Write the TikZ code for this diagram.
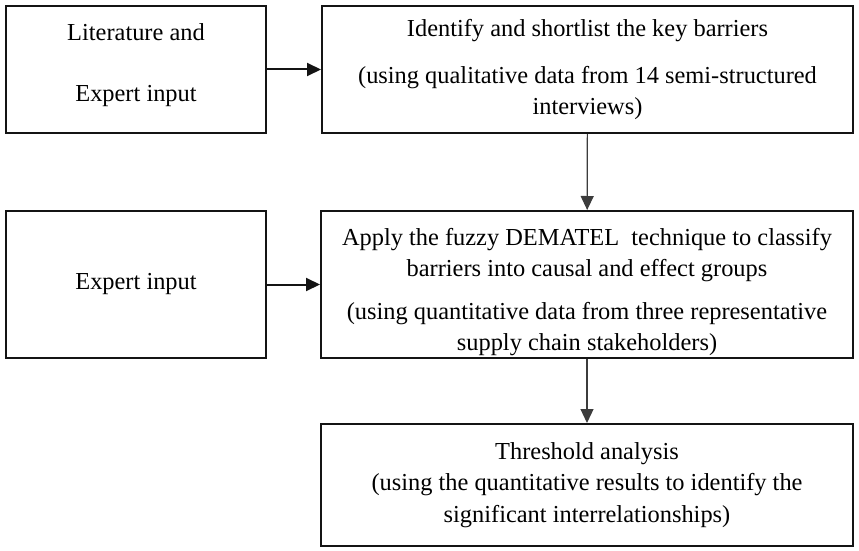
\documentclass[tikz,border=0pt]{standalone}
\usepackage{fontspec}
\setmainfont{Liberation Serif}
\usetikzlibrary{positioning, arrows.meta}
\definecolor{boxcol}{RGB}{20,20,20}
\definecolor{flowcol}{RGB}{60,60,60}

\begin{document}
\begin{tikzpicture}[
			x=1pt,
			y=-1pt,
			font=\fontsize{24.4}{31.5}\selectfont,
			box/.style={
				draw=boxcol,
				rectangle,
				line width=2pt,
				align=center,
				inner sep=0pt
			},
			flow/.style={
				draw=boxcol,
				line width=2pt,
				-{Triangle[length=14pt,width=13pt]}
			},
			downflow/.style={
				draw=flowcol,
				line width=1.2pt,
				-{Triangle[length=14pt,width=13pt]}
			}
			]
			\useasboundingbox (0,0) rectangle (859,551);
			% Boxes
			\node[box, minimum width=260pt, minimum height=127pt] (lit) at (136,69.5)
				{Literature and\\[29.5pt]Expert input\rule[-13pt]{0pt}{13pt}};
			\node[box, minimum width=531pt, minimum height=127pt] (identify) at (587.5,69.5)
				{Identify and shortlist the key barriers\\[15.5pt](using qualitative data from 14 semi-structured\\interviews)};
			\node[box, minimum width=260pt, minimum height=147pt] (expert) at (136,284.5)
				{Expert input};
			\node[box, minimum width=532pt, minimum height=147pt] (dematel) at (587,284.5)
				{\rule{0pt}{32pt}Apply the fuzzy DEMATEL\ \ technique to classify\\barriers into causal and effect groups\\[11pt](using quantitative data from three representative\\supply chain stakeholders)};
			\node[box, minimum width=532pt, minimum height=122pt] (threshold) at (587,485)
				{Threshold analysis\\(using the quantitative results to identify the\\significant interrelationships)};
			% Arrows
			\draw[flow] (lit) -- (identify);
			\draw[flow] (expert) -- (dematel);
			\draw[downflow] (identify) -- (dematel);
			\draw[downflow] (dematel) -- (threshold);
		\end{tikzpicture}
\end{document}
